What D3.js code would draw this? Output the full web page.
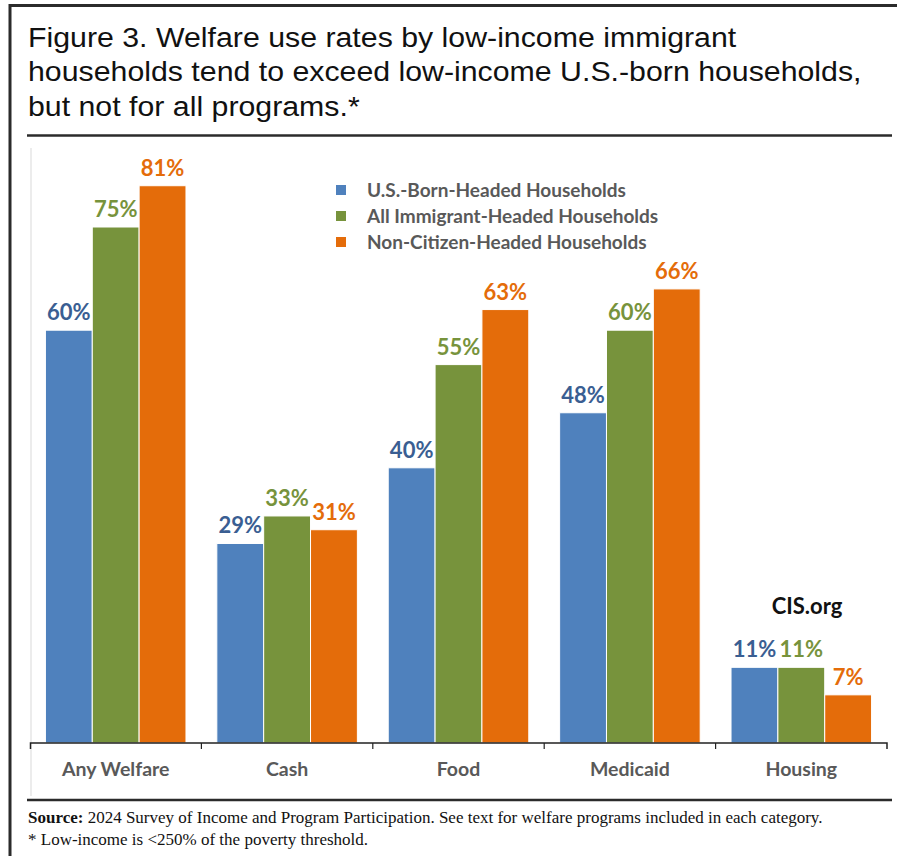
<!DOCTYPE html>
<html>
<head>
<meta charset="utf-8">
<script src="https://cdn.jsdelivr.net/npm/d3@7"></script>
<style>
    body { margin: 0; background: #fff; }
</style>
</head>
<body>
<div id="chart"></div>
<script>
var categories = ["Any Welfare", "Cash", "Food", "Medicaid", "Housing"];
var seriesNames = ["U.S.-Born-Headed Households", "All Immigrant-Headed Households", "Non-Citizen-Headed Households"];
var usBorn = [60, 29, 40, 48, 11];
var allImmigrant = [75, 33, 55, 60, 11];
var nonCitizen = [81, 31, 63, 66, 7];
var titleLines = [
    "Figure 3. Welfare use rates by low-income immigrant",
    "households tend to exceed low-income U.S.-born households,",
    "but not for all programs.*"
];

var barColors = ["#4F81BD", "#77933C", "#E46C0A"];
var labelColors = ["#3A5E92", "#77933C", "#E46C0A"];

var width = 897, height = 856;

var svg = d3.select("#chart")
    .append("svg")
    .attr("width", width)
    .attr("height", height);

// outer frame (left + top edges visible)
svg.append("path")
    .attr("d", "M10,900 L10,5.5 L900,5.5")
    .attr("fill", "none")
    .attr("stroke", "#2b2b2b")
    .attr("stroke-width", 3);

// title, stretched a bit so the longest line spans like the original
var titleG = svg.append("g");
var title = titleG.append("text")
    .attr("font-family", "Liberation Sans, Arial, sans-serif")
    .attr("font-size", "27.5px")
    .attr("fill", "#111");
title.selectAll("tspan")
    .data(titleLines)
    .enter().append("tspan")
    .attr("x", 0)
    .attr("y", function(d, i) { return 47 + i * 34.5; })
    .text(function(d) { return d; });

var longest = title.selectAll("tspan").nodes()[1].getComputedTextLength();
var sx = 834 / longest;
titleG.attr("transform", "translate(28,0) scale(" + sx + ",1)");

// rules under the title and above the source
svg.append("line")
    .attr("x1", 27).attr("x2", 892)
    .attr("y1", 135.5).attr("y2", 135.5)
    .attr("stroke", "#2b2b2b")
    .attr("stroke-width", 2.5);

svg.append("line")
    .attr("x1", 27).attr("x2", 892)
    .attr("y1", 800).attr("y2", 800)
    .attr("stroke", "#2b2b2b")
    .attr("stroke-width", 2.5);

// faint plot-area edge
svg.append("line")
    .attr("x1", 31).attr("x2", 31)
    .attr("y1", 148).attr("y2", 796)
    .attr("stroke", "#d9d9d9")
    .attr("stroke-width", 1);

// scales
var x0 = d3.scaleBand()
    .domain(categories)
    .range([30, 887])
    .paddingInner(0.18)
    .paddingOuter(0.09);

var x1 = d3.scaleBand()
    .domain(d3.range(seriesNames.length))
    .range([0, x0.bandwidth()]);

var y = d3.scaleLinear()
    .domain([0, 100])
    .range([743, 55]);

var series = [usBorn, allImmigrant, nonCitizen];

var groups = svg.selectAll(".group")
    .data(categories)
    .enter().append("g")
    .attr("class", "group")
    .attr("transform", function(d) { return "translate(" + x0(d) + ",0)"; });

var cells = groups.selectAll(".cell")
    .data(function(d, ci) {
        return series.map(function(s, si) { return { s: si, v: s[ci] }; });
    })
    .enter();

cells.append("rect")
    .attr("x", function(d) { return x1(d.s); })
    .attr("y", function(d) { return y(d.v); })
    .attr("width", x1.bandwidth())
    .attr("height", function(d) { return y(0) - y(d.v); })
    .attr("fill", function(d) { return barColors[d.s]; })
    .attr("stroke", "#fff")
    .attr("stroke-width", 1);

cells.append("text")
    .attr("x", function(d) { return x1(d.s) + x1.bandwidth() / 2; })
    .attr("y", function(d) { return y(d.v) - 10; })
    .attr("text-anchor", "middle")
    .attr("font-family", "Lato, Open Sans, sans-serif")
    .attr("font-weight", "bold")
    .attr("font-size", "22px")
    .attr("fill", function(d) { return labelColors[d.s]; })
    .text(function(d) { return d.v + "%"; });

// x axis
var xAxis = d3.axisBottom(x0)
    .tickSize(0)
    .tickPadding(19);

var axisG = svg.append("g")
    .attr("transform", "translate(0,743)")
    .call(xAxis);
axisG.select(".domain")
    .attr("d", "M30.5,6V0H887V6")
    .attr("stroke", "#222")
    .attr("stroke-width", 1.5);
axisG.selectAll(".tick text")
    .attr("font-family", "Lato, Open Sans, sans-serif")
    .attr("font-weight", "bold")
    .attr("font-size", "19.5px")
    .attr("fill", "#595959");

// boundary ticks between categories
axisG.selectAll(".sep")
    .data(categories.slice(1))
    .enter().append("line")
    .attr("class", "sep")
    .attr("x1", function(d) { return x0(d) - x0.step() * x0.paddingInner() / 2; })
    .attr("x2", function(d) { return x0(d) - x0.step() * x0.paddingInner() / 2; })
    .attr("y1", 0).attr("y2", 6)
    .attr("stroke", "#222")
    .attr("stroke-width", 1.2);

// legend
var legend = svg.append("g")
    .attr("transform", "translate(336,190)");

var legendRow = legend.selectAll(".legendRow")
    .data(seriesNames)
    .enter().append("g")
    .attr("class", "legendRow")
    .attr("transform", function(d, i) { return "translate(0," + (i * 26) + ")"; });

legendRow.append("rect")
    .attr("x", 0)
    .attr("y", -5)
    .attr("width", 10)
    .attr("height", 10)
    .attr("fill", function(d, i) { return barColors[i]; });

legendRow.append("text")
    .attr("x", 31)
    .attr("y", 6.5)
    .attr("font-family", "Lato, Open Sans, sans-serif")
    .attr("font-weight", "bold")
    .attr("font-size", "19px")
    .attr("fill", "#595959")
    .text(function(d) { return d; });

// watermark
svg.append("text")
    .attr("x", 807)
    .attr("y", 614)
    .attr("text-anchor", "middle")
    .attr("font-family", "Lato, Open Sans, sans-serif")
    .attr("font-weight", "bold")
    .attr("font-size", "22px")
    .attr("fill", "#111")
    .text("CIS.org");

// source notes
var src = svg.append("text")
    .attr("x", 28)
    .attr("y", 823)
    .attr("font-family", "Liberation Serif, DejaVu Serif, serif")
    .attr("font-size", "17px")
    .attr("fill", "#111");
src.append("tspan").attr("font-weight", "bold").text("Source:");
src.append("tspan").text(" 2024 Survey of Income and Program Participation. See text for welfare programs included in each category.");

svg.append("text")
    .attr("x", 28)
    .attr("y", 845)
    .attr("font-family", "Liberation Serif, DejaVu Serif, serif")
    .attr("font-size", "17px")
    .attr("fill", "#111")
    .text("* Low-income is <250% of the poverty threshold.");
</script>
</body>
</html>
